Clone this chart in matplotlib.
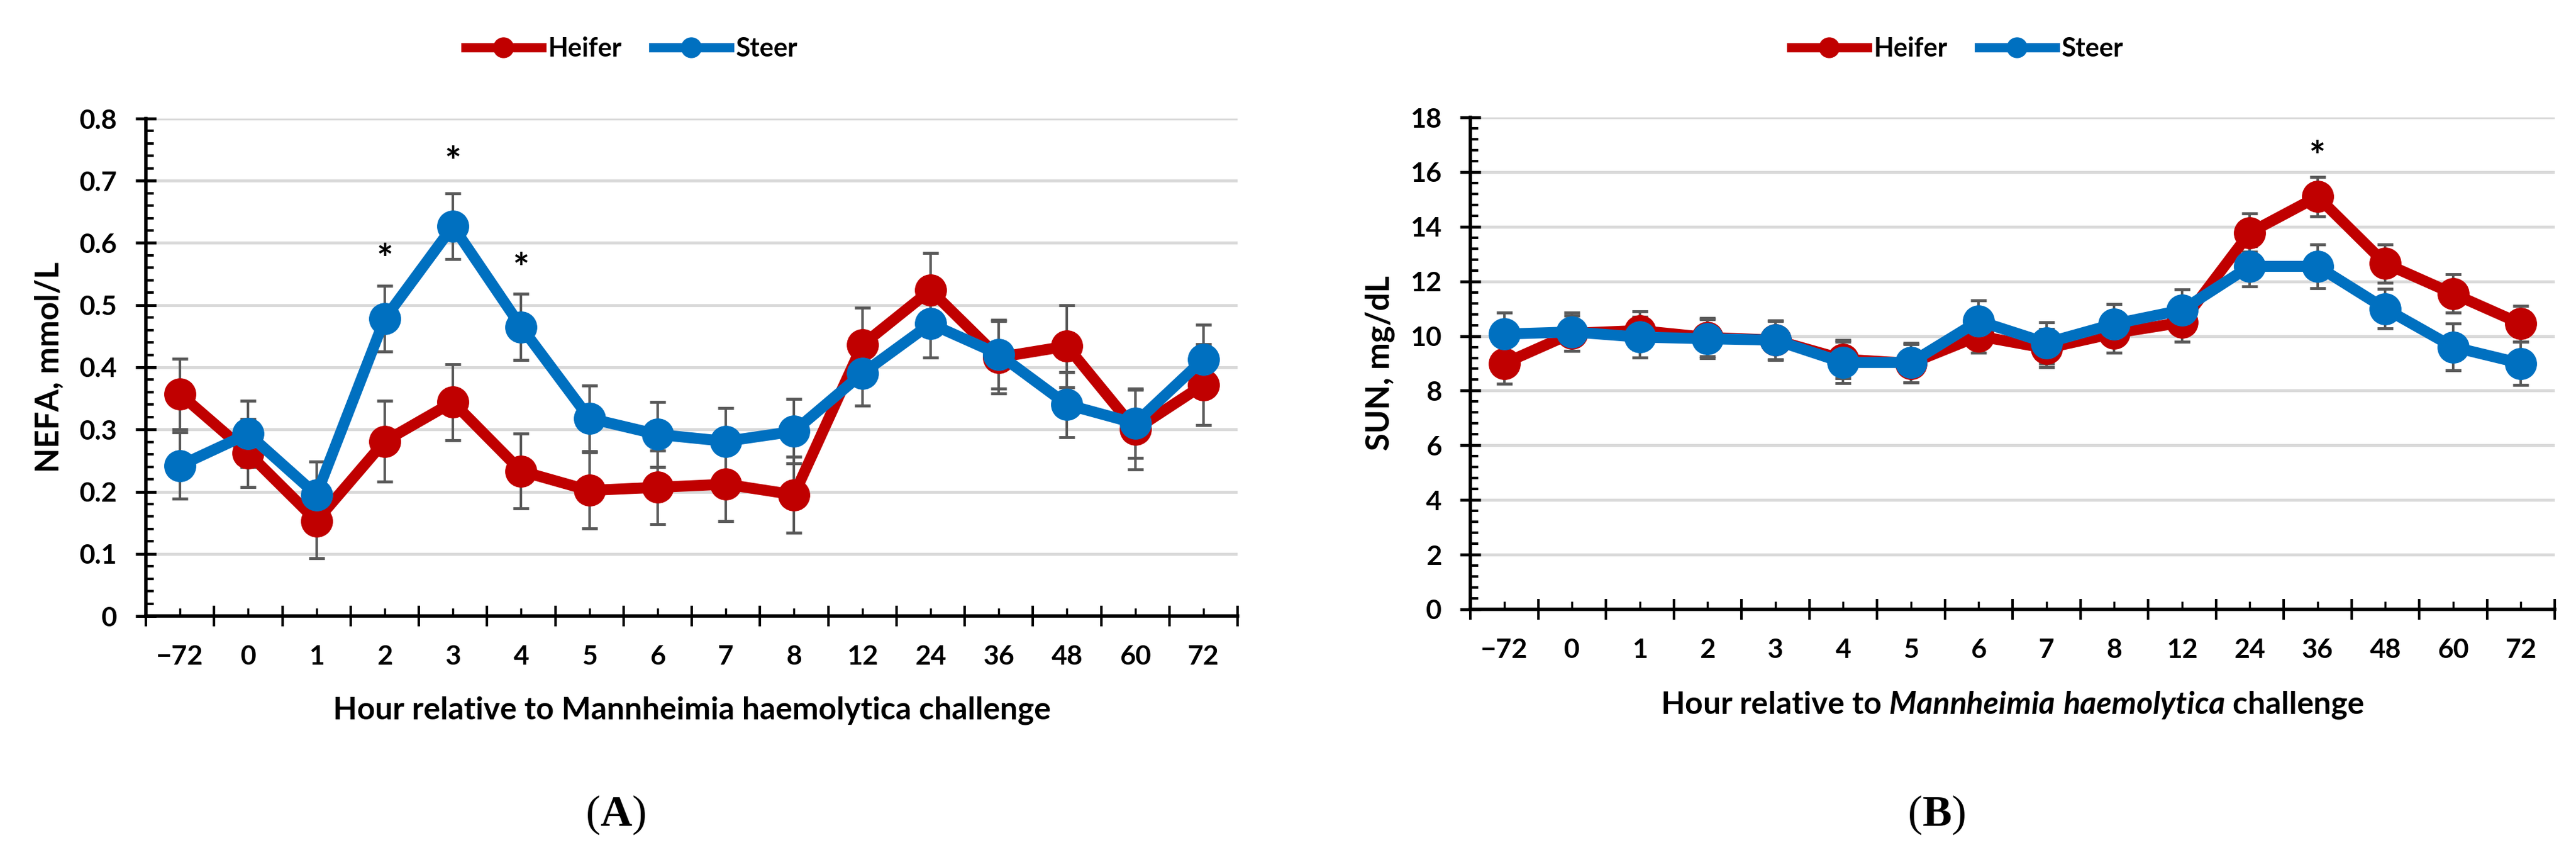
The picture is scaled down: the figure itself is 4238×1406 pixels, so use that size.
import matplotlib
matplotlib.use('Agg')
import matplotlib.pyplot as plt
from matplotlib.ticker import MultipleLocator, FixedLocator, NullFormatter
import numpy as np

plt.rcParams['font.family'] = ['Lato', 'DejaVu Sans']
plt.rcParams['font.weight'] = 'bold'
plt.rcParams['axes.labelweight'] = 'bold'
plt.rcParams['mathtext.fontset'] = 'custom'
plt.rcParams['mathtext.it'] = 'Lato:italic:bold'
plt.rcParams['mathtext.rm'] = 'Lato:bold'
plt.rcParams['mathtext.bf'] = 'Liberation Serif:bold'

# hours relative to challenge
hours = ['\u221272', '0', '1', '2', '3', '4', '5', '6', '7', '8',
         '12', '24', '36', '48', '60', '72']

# panel A: NEFA, mmol/L
nefa_heifer = [0.357, 0.262, 0.153, 0.281, 0.344, 0.233, 0.202, 0.207,
               0.212, 0.195, 0.436, 0.524, 0.416, 0.434, 0.300, 0.372]
nefa_heifer_se = [0.057, 0.055, 0.060, 0.065, 0.061, 0.060, 0.061, 0.059,
                  0.059, 0.061, 0.060, 0.060, 0.058, 0.066, 0.064, 0.065]
nefa_steer = [0.242, 0.293, 0.195, 0.478, 0.627, 0.465, 0.318, 0.292,
              0.281, 0.297, 0.390, 0.470, 0.421, 0.340, 0.310, 0.413]
nefa_steer_se = [0.053, 0.053, 0.053, 0.053, 0.053, 0.053, 0.053, 0.052,
                 0.053, 0.052, 0.052, 0.054, 0.055, 0.052, 0.056, 0.055]
nefa_star_idx = [3, 4, 5]
nefa_star_y = [0.571, 0.727, 0.556]

# panel B: SUN, mg/dL
sun_heifer = [9.0, 10.1, 10.2, 9.95, 9.85, 9.15, 9.0, 10.0,
              9.55, 10.1, 10.5, 13.78, 15.1, 12.65, 11.55, 10.45]
sun_heifer_se = [0.75, 0.65, 0.7, 0.7, 0.7, 0.7, 0.7, 0.6,
                 0.7, 0.7, 0.7, 0.7, 0.72, 0.7, 0.7, 0.65]
sun_steer = [10.07, 10.15, 9.96, 9.9, 9.85, 9.03, 9.03, 10.55,
             9.75, 10.44, 10.95, 12.55, 12.55, 11.0, 9.6, 9.0]
sun_steer_se = [0.78, 0.7, 0.75, 0.72, 0.72, 0.75, 0.72, 0.75,
                0.75, 0.72, 0.75, 0.74, 0.8, 0.72, 0.85, 0.8]
sun_star_idx = [12]
sun_star_y = [16.5]

red = '#C00000'
blue = '#0070C0'
grey = '#595959'

W, H = 4238, 1406
fig = plt.figure(figsize=(W / 100, H / 100), dpi=100)

ax_a = fig.add_axes([240 / W, 1 - 1013 / H, 1796 / W, 818 / H])
ax_b = fig.add_axes([2419 / W, 1 - 1002 / H, 1784 / W, 809 / H])


def draw_panel(ax, heifer, heifer_se, steer, steer_se, ymax, major, minor,
               ylabel, xlabel, star_idx, star_y, legend_x, tag, tag_x, yfmt):
    x = np.arange(len(hours))
    handles = []
    for vals, se, col, lab in [(heifer, heifer_se, red, 'Heifer'),
                               (steer, steer_se, blue, 'Steer')]:
        eb = ax.errorbar(x, vals, yerr=se, fmt='-o', color=col, lw=13,
                         ms=37, ecolor=grey, elinewidth=3, capsize=9.5,
                         capthick=3.5, label=lab, zorder=3)
        eb[0].set_zorder(4)
        handles.append(eb[0])

    for i, yv in zip(star_idx, star_y):
        ax.text(x[i], yv, '*', ha='center', va='center', fontsize=46,
                fontweight='bold', zorder=5)

    ax.set_xlim(-0.5, len(hours) - 0.5)
    ax.set_ylim(0, ymax)
    ax.xaxis.set_major_locator(FixedLocator(x))
    ax.xaxis.set_minor_locator(FixedLocator(np.arange(-0.5, len(hours))))
    ax.xaxis.set_minor_formatter(NullFormatter())
    ax.yaxis.set_major_locator(MultipleLocator(major))
    ax.yaxis.set_minor_locator(MultipleLocator(minor))
    ax.set_xticklabels(hours, fontsize=32, fontweight='bold')
    yt = np.arange(0, ymax + major / 2, major)
    ax.set_yticks(yt)
    ax.set_yticklabels([yfmt(v) for v in yt], fontsize=32, fontweight='bold')

    ax.tick_params(axis='x', which='major', direction='in', length=9.5,
                   width=2.5, pad=34)
    ax.tick_params(axis='x', which='minor', direction='inout', length=24,
                   width=3)
    ax.tick_params(axis='y', which='major', direction='inout', length=24,
                   width=3.5, pad=22)
    ax.tick_params(axis='y', which='minor', direction='in', length=9.5,
                   width=3)

    for s in ['top', 'right']:
        ax.spines[s].set_visible(False)
    for s in ['left', 'bottom']:
        ax.spines[s].set_linewidth(4)
    ax.yaxis.grid(True, color='#d9d9d9', lw=3.5)
    ax.set_axisbelow(True)

    ax.set_ylabel(ylabel, fontsize=38, fontweight='bold', labelpad=18)
    ax.set_xlabel(xlabel, fontsize=37, fontweight='bold', labelpad=32)

    leg = ax.legend(handles=handles, labels=['Heifer', 'Steer'], ncol=2,
                    loc='center', bbox_to_anchor=(legend_x / W, 1 - 80 / H),
                    bbox_transform=fig.transFigure, frameon=False,
                    prop={'size': 31, 'weight': 'bold'}, markerscale=0.64,
                    handlelength=2.9, handletextpad=0.25, columnspacing=1.2)
    for ln in leg.get_lines():
        ln.set_linewidth(11)

    fig.text(tag_x / W, 1 - 1340 / H, tag, ha='center', va='center',
             fontsize=52, family='Liberation Serif', fontweight='normal')


draw_panel(ax_a, nefa_heifer, nefa_heifer_se, nefa_steer, nefa_steer_se,
           0.8, 0.1, 0.02, 'NEFA, mmol/L',
           'Hour relative to Mannheimia haemolytica challenge',
           nefa_star_idx, nefa_star_y, 1039, r'($\mathbf{A}$)', 1013,
           lambda v: '0' if abs(v) < 1e-9 else '%.1f' % v)

draw_panel(ax_b, sun_heifer, sun_heifer_se, sun_steer, sun_steer_se,
           18, 2, 0.4, 'SUN, mg/dL',
           r'Hour relative to $\mathit{Mannheimia\ haemolytica}$ challenge',
           sun_star_idx, sun_star_y, 3220, r'($\mathbf{B}$)', 3186,
           lambda v: '%d' % round(v))

fig.savefig('out.png', dpi=100, facecolor='white')
